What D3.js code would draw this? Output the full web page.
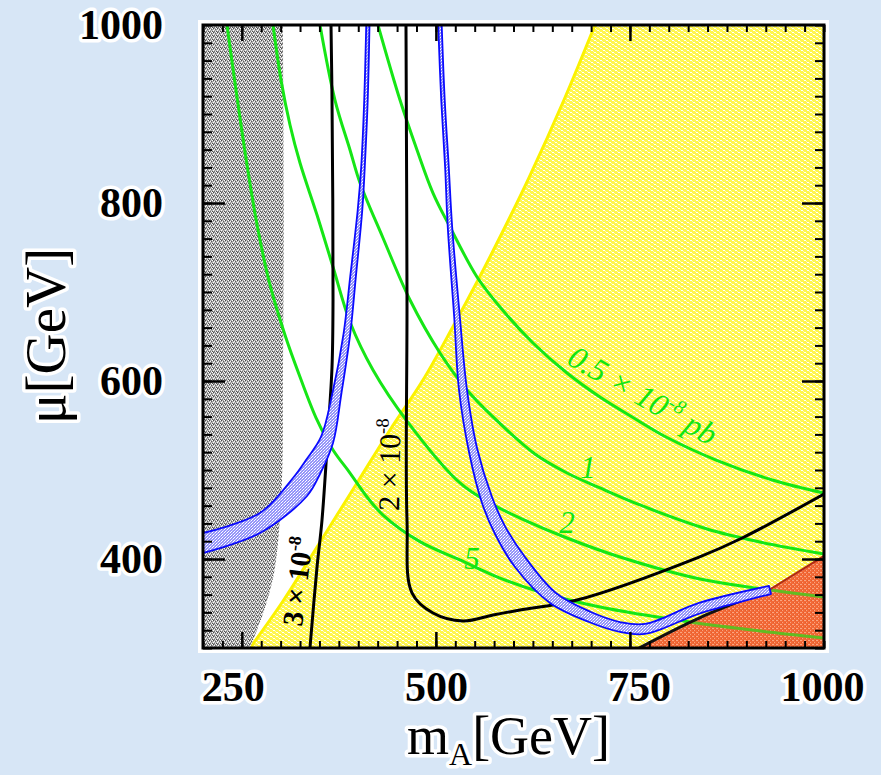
<!DOCTYPE html>
<html>
<head>
<meta charset="utf-8">
<script src="https://cdnjs.cloudflare.com/ajax/libs/d3/7.8.5/d3.min.js"></script>
<style>
  html, body { margin: 0; padding: 0; background: #d7e6f6; }
  svg { display: block; }
</style>
</head>
<body>
<svg id="chart" width="881" height="775"></svg>
<script>
// ---- axis ranges and tick labels ----
const xDomain = [200, 1000];          // m_A [GeV]
const yDomain = [300, 1000];          // mu [GeV]
const xTickLabels = [250, 500, 750, 1000];
const yTickLabels = [400, 600, 800, 1000];

// ---- excluded / allowed regions (boundary curves, [mA, mu]) ----
const grayEdge = [[303,1000],[304,800],[303,601],[301.7,488],[292.6,390],[279.7,345],[260.5,300]];
const yellowEdge = [[260.5,300],[304,353.9],[346.9,413.5],[398.4,485.4],[440.9,545],[483.4,601.1],
                    [521.8,660.7],[554.3,713.5],[585.2,766.3],[620.3,829.2],[665,915.7],[705,1000]];
const orangeEdge = [[761.8,300],[839.1,333.7],[929.5,365.2],[1000,403.4]];

// ---- neutralino–nucleon cross section contours (x 10^-8 pb) ----
const sigma05 = [[425.4,1000],[453.8,915.7],[475.7,859.6],[496.3,811.2],[518.2,773],[553,716.9],
                 [582.6,683.1],[625.1,642.7],[668.9,609],[711.4,582],[752.8,559.6],[796.6,537.1],
                 [861,511.2],[933.4,488.8],[1000,474]];
const sigma1  = [[350.7,1000],[370,915.7],[389.4,859.6],[402.3,822.5],[431.9,760.7],[466.7,691],
                 [505.3,631.5],[540.1,589.9],[573.6,559.6],[627.7,517.9],[668.9,496.6],[711.4,479.8],
                 [762.9,460.7],[849.3,433.7],[917.5,419.1],[1000,405.6]];
const sigma2  = [[290.2,1000],[300.5,938.2],[312.1,887.6],[325,844.9],[346.9,786.5],[367.5,728.1],
                 [389.4,666.3],[419,612.4],[462.8,555],[531.1,485.4],[569.7,462.9],[608.4,446],
                 [668.9,423.6],[737.2,402.2],[840.2,377.5],[921.4,366.3],[1000,357.3]];
const sigma5  = [[230.9,1000],[242.5,927],[256.7,842.7],[270.9,769.7],[286.3,707.9],[305.6,651.7],
                 [325,604.5],[346.9,556.2],[367.5,522.5],[389.4,496.6],[411.3,469.7],[431.9,449.4],
                 [479.5,419.5],[531.1,398.9],[582.6,378.6],[634.1,362.9],[711.4,346],[827.3,329.2],
                 [917.5,319.1],[1000,311.3]];

// ---- muon flux contours (3 x 10^-8 and 2 x 10^-8) ----
const flux3 = [[364.9,1000],[366.2,915.7],[367.5,691],[366.2,615.7],[361,541.6],[353.3,443.8],
               [346.9,391],[337.8,300]];
const flux2 = [[461.5,1000],[462.8,691],[462.8,443.8],[469.2,362],[496.3,339.3],[534.9,330.4],
               [573.6,337.1],[608.4,342.7],[681.8,353.9],[839.1,402.2],[894.6,423.6],[1000,473]];
const fluxEdge = [[761.8,300],[839.1,333.7],[929.5,365.2]];

// ---- relic density bands (two edges each) ----
const relicLeftA = [[410.3,1000],[407.7,915.7],[403.8,840.5],[399.3,792.1],[389.6,716.9],[381.2,653.9],
                    [366.8,586.5],[352,537.1],[332.7,511.2],[315.9,491],[273.4,451.7],[200,429.2]];
const relicLeftB = [[414.5,1000],[412.2,915.7],[408.4,840.5],[405.2,792.1],[396.9,716.9],[389.8,653.9],
                    [378.4,586.5],[367.5,530.3],[350.7,495.5],[334,470.8],[273.4,429.2],[200,406.7]];
const relicRightA = [[503,1000],[506.9,915.7],[511.9,840.5],[515.3,773],[523.6,671.9],[529.8,589.9],
                     [542.7,520.2],[559.4,462.9],[576.2,428.1],[601.9,391],[647,350.6],[697.2,329.2],
                     [737.2,318.1],[769.4,315.8],[841.5,339.3],[931.7,360.7]];
const relicRightB = [[507.5,1000],[511.4,915.7],[516.6,840.5],[521,773],[530.9,671.9],[540.1,589.9],
                     [553,524.7],[572.3,469.7],[589,437],[614.8,402.2],[654.7,361.8],[699.8,340.4],
                     [737.2,329.2],[769.4,327],[839,350.6],[929.1,369.7]];

// ---- layout ----
const svg = d3.select("#chart");
const L = 203, T = 25, R = 824, B = 648;
const x = d3.scaleLinear().domain(xDomain).range([L, R]);
const y = d3.scaleLinear().domain(yDomain).range([B, T]);
const serif = "'Liberation Serif','Times New Roman',serif";

const line = d3.line().x(d => x(d[0])).y(d => y(d[1])).curve(d3.curveCatmullRom.alpha(0.5));
const asL = p => p.replace(/^M/, "L");
// closed region: curved edge + straight corners
function region(edge, corners) {
  let s = line(edge);
  corners.forEach(c => { s += `L${x(c[0])},${y(c[1])}`; });
  return s + "Z";
}
function band(a, b) {
  return line(a) + asL(line(b.slice().reverse())) + "Z";
}

// ---- textures ----
const defs = svg.append("defs");
function pattern(id, w, h, base, cells) {
  const p = defs.append("pattern").attr("id", id).attr("patternUnits", "userSpaceOnUse")
    .attr("width", w).attr("height", h);
  p.append("rect").attr("width", w).attr("height", h).attr("fill", base);
  cells.forEach(c => p.append("rect").attr("x", c[0]).attr("y", c[1])
    .attr("width", c[2]).attr("height", c[3]).attr("fill", c[4]));
}
pattern("pGray", 4, 4, "#adadad", [[0,0,1,1,"#ffffff"],[2,1,1,1,"#f4f4f4"],[1,2,1,1,"#ffffff"],[3,3,1,1,"#eeeeee"],
  [1,0,1,1,"#484848"],[3,1,1,1,"#606060"],[0,3,1,1,"#505050"],[2,3,1,1,"#707070"]]);
pattern("pYellow", 6, 4, "#fff64e", [[0,0,2,1,"#ffffff"],[3,2,2,1,"#ffffff"],[2,1,1,1,"#fffbb4"],
  [5,3,1,1,"#fffbb4"]]);
pattern("pOrange", 4, 4, "#f36a38", [[0,0,2,1,"#ffc4a6"],[2,2,1,1,"#ffc4a6"],[1,2,1,1,"#e4501e"],
  [3,0,1,1,"#e4501e"]]);
pattern("pBlue", 3, 3, "#9494f8", [[0,0,1,1,"#ffffff"],[2,1,1,1,"#ffffff"],[1,2,1,1,"#d4d4ff"]]);

defs.append("clipPath").attr("id", "plotClip").append("rect")
  .attr("x", L).attr("y", T).attr("width", R - L).attr("height", B - T);

// ---- plot panel ----
svg.append("rect").attr("x", L - 5).attr("y", T - 5).attr("width", R - L + 10).attr("height", B - T + 10)
  .attr("fill", "#ffffff");

const g = svg.append("g").attr("clip-path", "url(#plotClip)");

g.append("path").attr("d", region(yellowEdge, [[1000,1000],[1000,300]])).attr("fill", "url(#pYellow)");
g.append("path").attr("d", line(yellowEdge)).attr("fill", "none").attr("stroke", "#fbf200").attr("stroke-width", 3);
g.append("path").attr("d", region(grayEdge, [[200,300],[200,1000]])).attr("fill", "url(#pGray)");
g.append("path").attr("d", region(orangeEdge, [[1000,300]])).attr("fill", "url(#pOrange)");

const greens = [sigma05, sigma1, sigma2, sigma5];
g.selectAll("path.sigma").data(greens).join("path").attr("class", "sigma")
  .attr("d", line).attr("fill", "none").attr("stroke", "#16e616").attr("stroke-width", 3);

// tint of the orange region over the contours running through it
g.append("path").attr("d", region(orangeEdge, [[1000,300]])).attr("fill", "#f06a38").attr("opacity", 0.35);

g.selectAll("path.flux").data([flux3, flux2]).join("path").attr("class", "flux")
  .attr("d", line).attr("fill", "none").attr("stroke", "#000").attr("stroke-width", 3);
g.append("path").attr("d", line(fluxEdge)).attr("fill", "none").attr("stroke", "#111").attr("stroke-width", 3);
g.append("path").attr("d", line(orangeEdge.slice(2))).attr("fill", "none").attr("stroke", "#b02a14").attr("stroke-width", 2);

g.selectAll("path.relic").data([[relicLeftA, relicLeftB], [relicRightA, relicRightB]]).join("path")
  .attr("class", "relic").attr("d", d => band(d[0], d[1]))
  .attr("fill", "url(#pBlue)").attr("stroke", "#0a0aff").attr("stroke-width", 1.8).attr("stroke-linejoin", "round");

// ---- contour labels ----
const green = "#12e412";
function supLabel(parent, parts, size) {
  const t = parent.append("text").attr("font-family", serif).attr("font-size", size);
  parts.forEach(p => {
    const s = t.append("tspan").text(p.t);
    if (p.sup) s.attr("dy", -size * 0.4).attr("font-size", size * 0.62);
    if (p.down) s.attr("dy", size * 0.4);
  });
  return t;
}
const lab05 = g.append("g").attr("transform", `translate(${x(667)},${y(620)}) rotate(30)`);
supLabel(lab05, [{t:"0.5 × 10"},{t:"-8",sup:true},{t:" pb",down:true}], 32)
  .attr("fill", green).attr("font-style", "italic");
[["1", 696, 491], ["2", 669, 429], ["5", 546.5, 389]].forEach(d => {
  g.append("text").attr("x", x(d[1])).attr("y", y(d[2])).attr("text-anchor", "middle")
    .attr("font-family", serif).attr("font-style", "italic").attr("font-size", 31)
    .attr("fill", green).text(d[0]);
});
const lab3 = g.append("g").attr("transform", `translate(${x(327.5)},${y(323.6)}) rotate(-83)`);
supLabel(lab3, [{t:"3 × 10"},{t:"-8",sup:true}], 29).attr("font-weight", "bold").attr("fill", "#000");
const lab2 = g.append("g").attr("transform", `translate(${x(452.5)},${y(453.9)}) rotate(-89)`);
supLabel(lab2, [{t:"2 × 10"},{t:"-8",sup:true}], 30).attr("fill", "#000");

// ---- ticks (pointing inward on all four sides) ----
const minorX = d3.range(200, 1001, 25), majorX = [250, 500, 750];
const minorY = d3.range(300, 1001, 20), majorY = [400, 600, 800];
function ticks(axis, tr, vals, size, width) {
  const a = svg.append("g").attr("transform", tr)
    .call(axis.tickValues(vals).tickSize(size).tickFormat(""));
  a.select(".domain").remove();
  a.selectAll("line").attr("stroke", "#000").attr("stroke-width", width);
}
ticks(d3.axisBottom(x), `translate(0,${B})`, minorX, -7, 2);
ticks(d3.axisBottom(x), `translate(0,${B})`, majorX, -16, 2.5);
ticks(d3.axisTop(x), `translate(0,${T})`, minorX, -7, 2);
ticks(d3.axisTop(x), `translate(0,${T})`, majorX, -16, 2.5);
ticks(d3.axisLeft(y), `translate(${L},0)`, minorY, -9, 2);
ticks(d3.axisLeft(y), `translate(${L},0)`, majorY, -22, 2.5);
ticks(d3.axisRight(y), `translate(${R},0)`, minorY, -9, 2);
ticks(d3.axisRight(y), `translate(${R},0)`, majorY, -22, 2.5);

svg.append("rect").attr("x", L).attr("y", T).attr("width", R - L).attr("height", B - T)
  .attr("fill", "none").attr("stroke", "#000").attr("stroke-width", 3);

// ---- tick labels ----
function halo(sel) {
  sel.attr("stroke", "#fff").attr("stroke-width", 7).attr("stroke-linejoin", "round")
    .attr("paint-order", "stroke").attr("fill", "#000");
}
const fmt = d3.format("d");
const xNudge = {250: -9, 500: 0, 750: 9, 1000: -2};
const xl = svg.append("g").attr("transform", `translate(0,${B})`)
  .call(d3.axisBottom(x).tickValues(xTickLabels).tickFormat(fmt).tickSize(0).tickPadding(23));
xl.select(".domain").remove();
xl.selectAll("text").attr("font-family", serif).attr("font-weight", "bold").attr("font-size", 42)
  .attr("dx", d => xNudge[d]).call(halo);

const yl = svg.append("g").attr("transform", `translate(${L},0)`)
  .call(d3.axisLeft(y).tickValues(yTickLabels).tickFormat(fmt).tickSize(0).tickPadding(40));
yl.select(".domain").remove();
yl.selectAll("text").attr("font-family", serif).attr("font-weight", "bold").attr("font-size", 42).call(halo);

// ---- axis titles ----
const xt = svg.append("text").attr("x", 407).attr("y", 754).attr("font-family", serif).attr("font-size", 54);
xt.append("tspan").text("m");
xt.append("tspan").attr("dy", 11).attr("font-size", 32).text("A");
xt.append("tspan").attr("dy", -11).text("[GeV]");
halo(xt);

const yt = svg.append("text").attr("transform", "translate(65,424) rotate(-90)")
  .attr("font-family", serif).attr("font-size", 57).text("μ[GeV]");
halo(yt);
</script>
</body>
</html>
